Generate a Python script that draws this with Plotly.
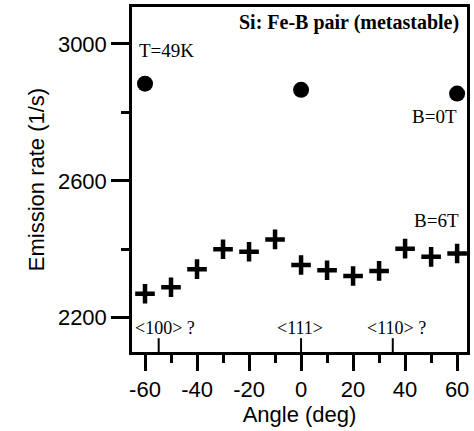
import plotly.graph_objects as go

# Data
angles_b0 = [-60, 0, 60]
rate_b0 = [2884, 2866, 2855]

angles_b6 = [-60, -50, -40, -30, -20, -10, 0, 10, 20, 30, 40, 50, 60]
rate_b6 = [2270, 2289, 2342, 2400, 2393, 2429, 2354, 2339, 2322, 2337, 2402, 2378, 2388]

x_ticks = [-60, -40, -20, 0, 20, 40, 60]
x_tick_labels = ["-60", "-40", "-20", "0", "20", "40", "60"]
y_ticks = [2200, 2600, 3000]
y_tick_labels = ["2200", "2600", "3000"]

# crystal direction markers (angle from <111>)
dir_angles = [-54.74, 0, 35.26]
dir_labels = ["&lt;100&gt; ?", "&lt;111&gt;", "&lt;110&gt; ?"]

sans = "Liberation Sans, Arial, sans-serif"
serif = "Liberation Serif, Times New Roman, serif"

fig = go.Figure()
fig.add_trace(go.Scatter(x=angles_b0, y=rate_b0, mode="markers",
                         marker=dict(symbol="circle", size=16, color="black"),
                         showlegend=False))
fig.add_trace(go.Scatter(x=angles_b6, y=rate_b6, mode="markers",
                         marker=dict(symbol="cross-thin-open", size=14,
                                     line=dict(width=4.5, color="black"), color="black"),
                         showlegend=False))

axis_common = dict(showline=True, linecolor="black", linewidth=2.5, mirror=True,
                   showgrid=False, zeroline=False, ticks="outside", tickcolor="black",
                   tickwidth=2.5, tickfont=dict(family=sans, size=22, color="black"))

fig.update_xaxes(range=[-65, 63.8], tickvals=x_ticks, ticktext=x_tick_labels, ticklen=16,
                 minor=dict(tickvals=[-50, -30, -10, 10, 30, 50], ticklen=8,
                            tickwidth=2.5, tickcolor="black", ticks="outside"),
                 title=dict(text="Angle (deg)", font=dict(family=sans, size=22, color="black"),
                            standoff=4),
                 **axis_common)
fig.update_yaxes(range=[2100, 3108], tickvals=y_ticks, ticktext=y_tick_labels, ticklen=18,
                 minor=dict(tickvals=[2400, 2800], ticklen=8,
                            tickwidth=2.5, tickcolor="black", ticks="outside"),
                 title=dict(text="Emission rate (1/s)", font=dict(family=sans, size=22, color="black"),
                            standoff=8),
                 **axis_common)

for a in dir_angles:
    fig.add_shape(type="line", xref="x", yref="paper", x0=a, x1=a, y0=0, y1=0.04,
                  line=dict(color="black", width=2))

anns = [
    dict(x=61.5, y=3064, text="<b>Si: Fe-B pair (metastable)</b>", xanchor="right", size=20),
    dict(x=-63.0, y=2982, text="T=49K", xanchor="left", size=19),
    dict(x=60.8, y=2787, text="B=0T", xanchor="right", size=19),
    dict(x=61.5, y=2483, text="B=6T", xanchor="right", size=19),
    dict(x=-64.6, y=2171, text=dir_labels[0], xanchor="left", size=18),
    dict(x=-0.5, y=2171, text=dir_labels[1], xanchor="center", size=18),
    dict(x=24.6, y=2171, text=dir_labels[2], xanchor="left", size=18),
]
for a in anns:
    fig.add_annotation(x=a["x"], y=a["y"], text=a["text"], xanchor=a["xanchor"],
                       yanchor="middle", showarrow=False,
                       font=dict(family=serif, size=a["size"], color="black"))

fig.update_layout(width=474, height=431, margin=dict(l=132, r=4, t=7, b=79),
                  plot_bgcolor="white", paper_bgcolor="white")

fig.write_html("out.html", config={"displayModeBar": False},
               post_script="document.body.style.margin='0';document.body.style.overflow='hidden';")
